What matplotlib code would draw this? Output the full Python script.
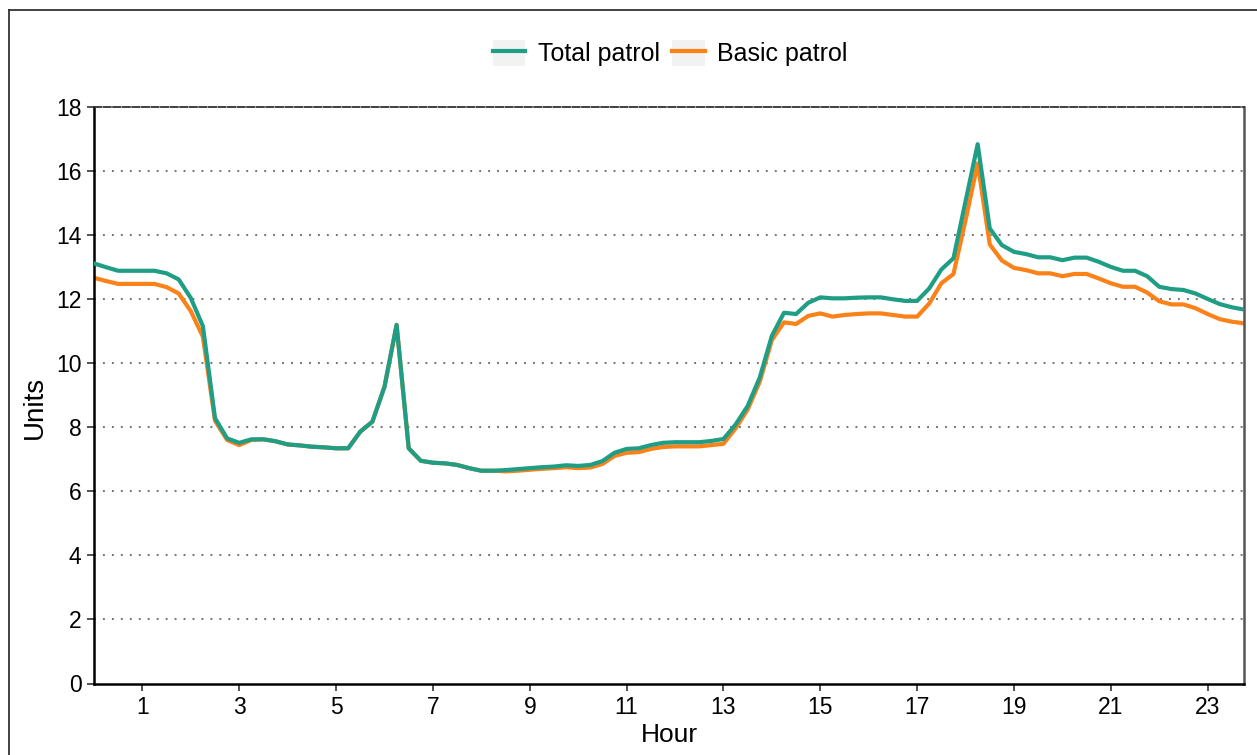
"""Patrol units on duty across the day (15-minute steps)."""
import matplotlib.pyplot as plt
import numpy as np
from matplotlib.lines import Line2D
from matplotlib.patches import Patch
from matplotlib.legend_handler import HandlerTuple

plt.rcParams["font.family"] = ["Liberation Sans", "DejaVu Sans"]

# quarter-hour grid, 0:00 .. 23:45
hours = np.arange(96) * 0.25

total_patrol = [
    13.11, 12.99, 12.88, 12.88, 12.88, 12.88, 12.80, 12.61,
    12.03, 11.15, 8.28, 7.65, 7.51, 7.62, 7.62, 7.56,
    7.46, 7.43, 7.39, 7.37, 7.34, 7.34, 7.86, 8.17,
    9.26, 11.19, 7.34, 6.95, 6.89, 6.87, 6.82, 6.72,
    6.64, 6.64, 6.66, 6.69, 6.72, 6.75, 6.77, 6.81,
    6.79, 6.82, 6.94, 7.20, 7.32, 7.34, 7.44, 7.51,
    7.53, 7.53, 7.53, 7.57, 7.63, 8.08, 8.66, 9.55,
    10.85, 11.57, 11.53, 11.88, 12.05, 12.02, 12.02, 12.04,
    12.05, 12.05, 11.99, 11.94, 11.94, 12.33, 12.92, 13.27,
    15.05, 16.83, 14.20, 13.68, 13.47, 13.40, 13.30, 13.30,
    13.21, 13.29, 13.29, 13.16, 13.00, 12.88, 12.88, 12.71,
    12.38, 12.31, 12.28, 12.17, 12.00, 11.84, 11.74, 11.67,
]

basic_patrol = [
    12.66, 12.56, 12.47, 12.47, 12.47, 12.47, 12.37, 12.17,
    11.62, 10.82, 8.20, 7.60, 7.44, 7.60, 7.62, 7.56,
    7.46, 7.43, 7.39, 7.37, 7.34, 7.34, 7.86, 8.17,
    9.26, 11.19, 7.34, 6.95, 6.89, 6.87, 6.82, 6.72,
    6.64, 6.64, 6.62, 6.64, 6.67, 6.70, 6.72, 6.75,
    6.72, 6.74, 6.85, 7.10, 7.20, 7.22, 7.32, 7.38,
    7.40, 7.40, 7.40, 7.44, 7.48, 7.96, 8.55, 9.42,
    10.72, 11.27, 11.22, 11.47, 11.55, 11.45, 11.50, 11.53,
    11.55, 11.55, 11.50, 11.45, 11.45, 11.86, 12.49, 12.78,
    14.46, 16.23, 13.70, 13.20, 12.97, 12.90, 12.80, 12.80,
    12.71, 12.78, 12.78, 12.64, 12.49, 12.38, 12.38, 12.20,
    11.93, 11.83, 11.83, 11.71, 11.53, 11.37, 11.29, 11.24,
]

x_ticks = [1, 3, 5, 7, 9, 11, 13, 15, 17, 19, 21, 23]
y_ticks = [0, 2, 4, 6, 8, 10, 12, 14, 16, 18]

GREEN = "#1f9e85"
ORANGE = "#fb8119"
LW = 3.0

W, H = 1257, 755
fig = plt.figure(figsize=(W / 100, H / 100), dpi=100)
ax = fig.add_axes([93.95 / W, 1 - 683.5 / H, (1244 - 93.95) / W, (683.5 - 106.7) / H])

# dotted horizontal grid
for y in y_ticks[1:-1]:
    ax.axhline(y, color="#777777", lw=1.5, dashes=(0.9, 3.4), zorder=0)

ax.plot(hours, basic_patrol, color=ORANGE, lw=LW, solid_joinstyle="round", zorder=2)
ax.plot(hours, total_patrol, color=GREEN, lw=LW, solid_joinstyle="round", zorder=3)

ax.set_xlim(0, 23.75)
ax.set_ylim(0, 18)
ax.set_xticks(x_ticks)
ax.set_yticks(y_ticks)
ax.tick_params(axis="both", labelsize=16.5, length=5, width=1.3, color="#444444",
               direction="out", pad=4)

for side in ("left", "bottom"):
    ax.spines[side].set_linewidth(1.8)
    ax.spines[side].set_color("black")
ax.spines["right"].set_linewidth(1.8)
ax.spines["right"].set_color("#555555")
ax.spines["top"].set_linewidth(1.3)
ax.spines["top"].set_color("#333333")
ax.spines["top"].set_linestyle((0, (4, 1.3)))

fig.text(669 / W, 1 - 735 / H, "Hour", fontsize=19, ha="center", va="center")
fig.text(35 / W, 1 - 407 / H, "Units", fontsize=20, rotation=90, ha="center", va="center")

# ggplot-like legend: grey key background with the line on top
key_bg = "#f2f2f2"
handles = [
    (Patch(facecolor=key_bg, edgecolor="none"), Line2D([], [], color=GREEN, lw=LW)),
    (Patch(facecolor=key_bg, edgecolor="none"), Line2D([], [], color=ORANGE, lw=LW)),
]
fig.legend(handles, ["Total patrol", "Basic patrol"],
           handler_map={tuple: HandlerTuple(ndivide=1, pad=0)},
           loc="center", bbox_to_anchor=(670 / W, 1 - 53 / H), ncol=2,
           frameon=False, fontsize=18, handlelength=1.3, handleheight=1.25,
           handletextpad=0.5, columnspacing=0.5, borderpad=0.2)

# outer frame (cut off at right and bottom edges)
fig.add_artist(Line2D([9 / W, 9 / W], [0, 1 - 10 / H], color="#333333", lw=1.3))
fig.add_artist(Line2D([9 / W, 1], [1 - 10 / H, 1 - 10 / H], color="#333333", lw=1.3))

fig.savefig("out.png", dpi=100)
plt.close(fig)
